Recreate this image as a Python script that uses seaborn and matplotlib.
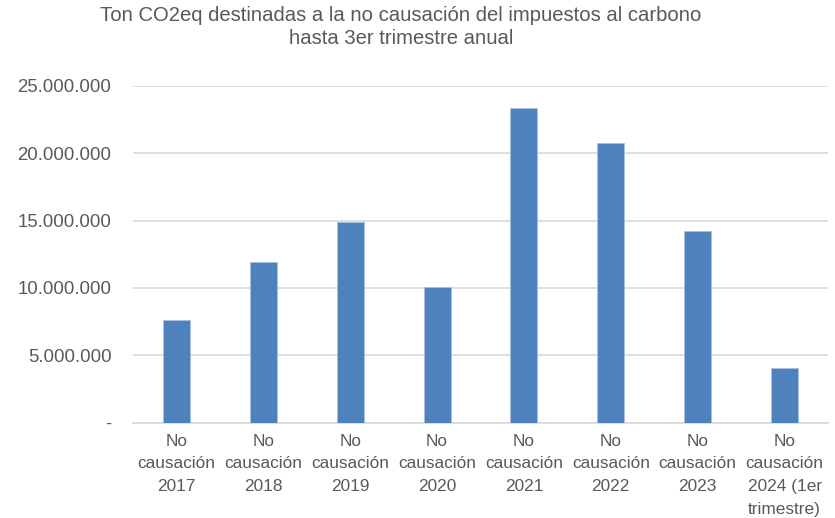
import matplotlib
matplotlib.use("Agg")
import matplotlib.pyplot as plt
import matplotlib.ticker as mticker
import seaborn as sns

categories = ["No\ncausación\n2017", "No\ncausación\n2018", "No\ncausación\n2019",
              "No\ncausación\n2020", "No\ncausación\n2021", "No\ncausación\n2022",
              "No\ncausación\n2023", "No\ncausación\n2024 (1er\ntrimestre)"]
values = [7650000, 11890000, 14900000, 10100000, 23370000, 20730000, 14260000, 4030000]
yticks = [0, 5000000, 10000000, 15000000, 20000000, 25000000]

sns.set_theme(style="white")
plt.rcParams['font.family'] = ['Liberation Sans', 'DejaVu Sans']

fig = plt.figure(figsize=(8.35, 5.18), dpi=100)
ax = fig.add_axes([133/835, 1-422.5/518, (828-133)/835, (422.5-86)/518])

sns.barplot(x=categories, y=values, color="#4f81bd", saturation=1, width=0.31,
            edgecolor="#a9c1e0", linewidth=0.6, ax=ax, zorder=3)

ax.set_ylim(0, 25000000)
ax.set_yticks(yticks)

def fmt(v, pos):
    if v == 0:
        return "-"
    return f"{int(v):,}".replace(",", ".")

ax.yaxis.set_major_formatter(mticker.FuncFormatter(fmt))
ax.grid(axis="y", color="#d9d9d9", linewidth=1.2, zorder=0)
ax.set_axisbelow(True)
for s in ["top", "right", "left"]:
    ax.spines[s].set_visible(False)
ax.spines["bottom"].set_color("#d9d9d9")
ax.spines["bottom"].set_linewidth(1.2)

ax.tick_params(axis="y", length=0, pad=15.5, labelsize=13.4, labelcolor="#595959")
ax.tick_params(axis="x", length=0, pad=8, labelsize=12.4, labelcolor="#595959")
for lab in ax.get_xticklabels():
    lab.set_linespacing(1.65)

fig.text(0.48, 0.988, "Ton CO2eq destinadas a la no causación del impuestos al carbono\nhasta 3er trimestre anual",
         ha="center", va="top", fontsize=14.6, color="#595959", linespacing=1.25)

fig.savefig("out.png", dpi=100, facecolor="white")
